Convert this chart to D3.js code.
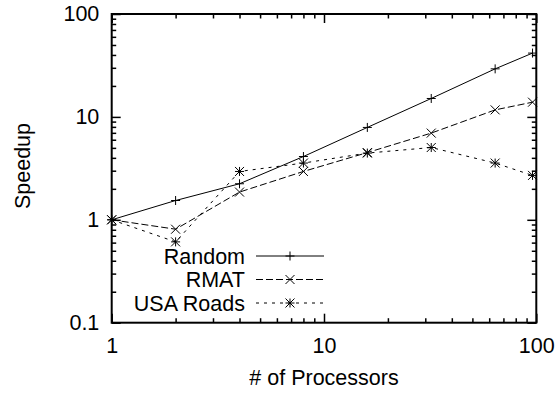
<!DOCTYPE html>
<html><head><meta charset="utf-8">
<script src="https://cdn.jsdelivr.net/npm/d3@7"></script>
<style>
body{margin:0;background:#fff;}
svg{display:block;font-family:"Liberation Sans",Arial,sans-serif;}
</style></head>
<body><svg id="c" width="558" height="395"></svg>
<script>
const processors = [1, 2, 4, 8, 16, 32, 64, 96];
const randomSpeedup = [1, 1.54, 2.24, 4.12, 7.9, 15.1, 29.3, 41.7];
const rmatSpeedup = [1, 0.81, 1.86, 2.95, 4.5, 6.96, 11.7, 13.9];
const usaSpeedup = [1, 0.61, 2.95, 3.56, 4.45, 5.04, 3.56, 2.7];
const seriesNames = ["Random", "RMAT", "USA Roads"];
const xTickLabels = [1, 10, 100];
const yTickLabels = [0.1, 1, 10, 100];

const svg = d3.select("#c");
const L = 111.7, R = 536.3, T = 14, B = 322.7;
const x = d3.scaleLog().domain([1, 100]).range([L, R]);
const y = d3.scaleLog().domain([0.1, 100]).range([B, T]);
const fs = "21.5px";

function minors(lo, hi) {
  const out = [];
  for (let d = lo; d < hi; d *= 10) for (let k = 2; k <= 9; k++) out.push(d * k);
  return out;
}
const xMinor = minors(1, 100), yMinor = minors(0.1, 100);

function styleAxis(g) {
  g.select(".domain").remove();
  g.selectAll(".tick line").attr("stroke", "#000").attr("stroke-width", 1.5);
  g.selectAll("text").style("font-size", fs).attr("fill", "#000");
}
// bottom
svg.append("g").attr("transform", `translate(0,${B})`)
  .call(d3.axisBottom(x).tickValues(xTickLabels).tickFormat(d3.format("~g")).tickSizeInner(-9).tickSizeOuter(0).tickPadding(15)).call(styleAxis);
svg.append("g").attr("transform", `translate(0,${B})`)
  .call(d3.axisBottom(x).tickValues(xMinor).tickFormat("").tickSizeInner(-4.5).tickSizeOuter(0)).call(styleAxis);
// top
svg.append("g").attr("transform", `translate(0,${T})`)
  .call(d3.axisTop(x).tickValues(xTickLabels).tickFormat("").tickSizeInner(-9).tickSizeOuter(0)).call(styleAxis);
svg.append("g").attr("transform", `translate(0,${T})`)
  .call(d3.axisTop(x).tickValues(xMinor).tickFormat("").tickSizeInner(-4.5).tickSizeOuter(0)).call(styleAxis);
// left
svg.append("g").attr("transform", `translate(${L},0)`)
  .call(d3.axisLeft(y).tickValues(yTickLabels).tickFormat(d3.format("~g")).tickSizeInner(-9).tickSizeOuter(0).tickPadding(12.4)).call(styleAxis);
svg.append("g").attr("transform", `translate(${L},0)`)
  .call(d3.axisLeft(y).tickValues(yMinor).tickFormat("").tickSizeInner(-4.5).tickSizeOuter(0)).call(styleAxis);
// right
svg.append("g").attr("transform", `translate(${R},0)`)
  .call(d3.axisRight(y).tickValues(yTickLabels).tickFormat("").tickSizeInner(-9).tickSizeOuter(0)).call(styleAxis);
svg.append("g").attr("transform", `translate(${R},0)`)
  .call(d3.axisRight(y).tickValues(yMinor).tickFormat("").tickSizeInner(-4.5).tickSizeOuter(0)).call(styleAxis);

svg.append("rect").attr("x", L).attr("y", T).attr("width", R - L).attr("height", B - T)
  .attr("fill", "none").attr("stroke", "#000").attr("stroke-width", 2);

// axis titles
svg.append("text").attr("x", (L + R) / 2).attr("y", 385).attr("text-anchor", "middle")
  .style("font-size", fs).text("# of Processors");
svg.append("text").attr("transform", "translate(30,166) rotate(-90)").attr("text-anchor", "middle")
  .style("font-size", fs).text("Speedup");

const series = [
  {name: seriesNames[0], vals: randomSpeedup, dash: null, marker: "plus"},
  {name: seriesNames[1], vals: rmatSpeedup, dash: "7,3", marker: "cross"},
  {name: seriesNames[2], vals: usaSpeedup, dash: "3,5", marker: "star"}
];

function drawMarker(g, cx, cy, type) {
  const s = 4.5;
  const p = d3.path();
  if (type === "plus" || type === "star") {
    p.moveTo(cx - s, cy); p.lineTo(cx + s, cy);
    p.moveTo(cx, cy - s); p.lineTo(cx, cy + s);
  }
  if (type === "cross" || type === "star") {
    p.moveTo(cx - s, cy - s); p.lineTo(cx + s, cy + s);
    p.moveTo(cx - s, cy + s); p.lineTo(cx + s, cy - s);
  }
  g.append("path").attr("d", p.toString()).attr("stroke", "#000").attr("stroke-width", 1).attr("fill", "none");
}

const line = d3.line().x(d => x(d[0])).y(d => y(d[1]));
series.forEach((s, i) => {
  const pts = processors.map((p, j) => [p, s.vals[j]]);
  const g = svg.append("g");
  g.append("path").attr("d", line(pts)).attr("fill", "none").attr("stroke", "#000")
    .attr("stroke-width", 1).attr("stroke-dasharray", s.dash);
  pts.forEach(d => drawMarker(g, x(d[0]), y(d[1]), s.marker));
  // legend
  const ly = 256 + i * 23.5;
  svg.append("text").attr("x", 245).attr("y", ly).attr("dy", "0.35em").attr("text-anchor", "end")
    .style("font-size", fs).text(s.name);
  svg.append("line").attr("x1", 256).attr("x2", 324).attr("y1", ly).attr("y2", ly)
    .attr("stroke", "#000").attr("stroke-width", 1).attr("stroke-dasharray", s.dash);
  drawMarker(svg, 290, ly, s.marker);
});
</script></body></html>
